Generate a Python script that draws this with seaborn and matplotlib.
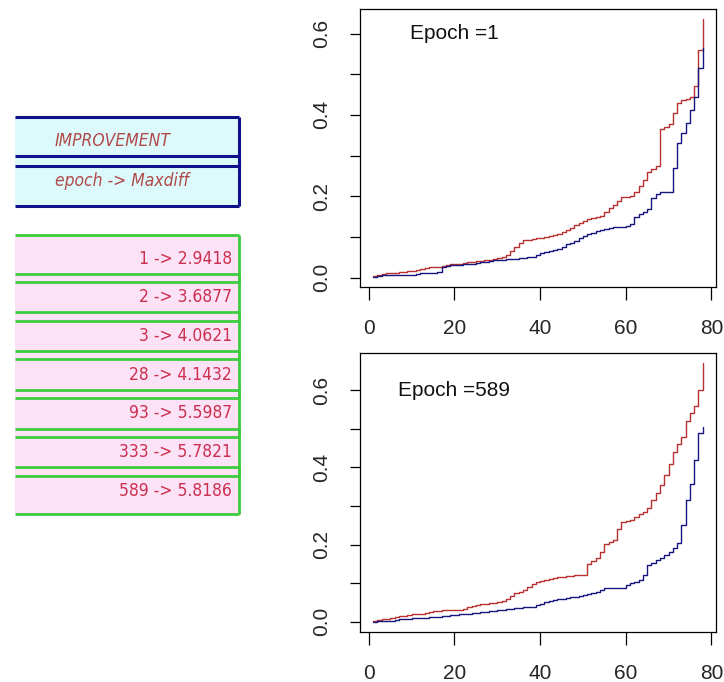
import pandas as pd
import matplotlib
matplotlib.use("Agg")
import matplotlib.pyplot as plt
import matplotlib.patches as mpatches
from matplotlib import font_manager
from matplotlib.font_manager import FontProperties
import numpy as np
import seaborn as sns

# data (sorted values, index 1..78)
idx = list(range(1, 79))

top_red = [0.003, 0.006, 0.008, 0.010, 0.012, 0.012, 0.014, 0.014, 0.016, 0.017,
           0.018, 0.020, 0.024, 0.025, 0.026, 0.027, 0.029, 0.030, 0.032, 0.034,
           0.034, 0.036, 0.037, 0.038, 0.040, 0.041, 0.042, 0.044, 0.046, 0.048,
           0.050, 0.055, 0.065, 0.075, 0.085, 0.093, 0.093, 0.095, 0.097, 0.098,
           0.100, 0.103, 0.104, 0.108, 0.112, 0.116, 0.122, 0.128, 0.134, 0.140,
           0.145, 0.146, 0.150, 0.152, 0.162, 0.170, 0.178, 0.188, 0.197, 0.199,
           0.200, 0.210, 0.224, 0.240, 0.260, 0.268, 0.274, 0.364, 0.370, 0.378,
           0.405, 0.430, 0.436, 0.438, 0.445, 0.470, 0.560, 0.635]
top_blue = [0.002, 0.004, 0.005, 0.005, 0.005, 0.006, 0.006, 0.007, 0.007, 0.007,
            0.009, 0.010, 0.011, 0.012, 0.012, 0.014, 0.025, 0.028, 0.030, 0.031,
            0.031, 0.032, 0.032, 0.034, 0.036, 0.038, 0.039, 0.040, 0.042, 0.043,
            0.044, 0.045, 0.046, 0.046, 0.047, 0.048, 0.050, 0.051, 0.056, 0.061,
            0.063, 0.065, 0.067, 0.071, 0.076, 0.082, 0.086, 0.090, 0.096, 0.102,
            0.106, 0.110, 0.115, 0.118, 0.120, 0.122, 0.123, 0.124, 0.125, 0.126,
            0.132, 0.150, 0.156, 0.162, 0.168, 0.195, 0.205, 0.211, 0.211, 0.211,
            0.270, 0.330, 0.355, 0.380, 0.412, 0.445, 0.515, 0.565]
bot_red = [0.003, 0.005, 0.006, 0.008, 0.010, 0.012, 0.014, 0.016, 0.018, 0.019,
           0.020, 0.021, 0.023, 0.025, 0.027, 0.028, 0.029, 0.030, 0.030, 0.031,
           0.031, 0.034, 0.038, 0.041, 0.043, 0.045, 0.047, 0.048, 0.049, 0.051,
           0.053, 0.058, 0.066, 0.074, 0.078, 0.082, 0.090, 0.098, 0.102, 0.106,
           0.108, 0.110, 0.112, 0.115, 0.117, 0.118, 0.119, 0.120, 0.120, 0.121,
           0.150, 0.158, 0.164, 0.180, 0.202, 0.206, 0.212, 0.240, 0.258, 0.262,
           0.264, 0.272, 0.280, 0.284, 0.295, 0.316, 0.335, 0.355, 0.380, 0.410,
           0.440, 0.460, 0.480, 0.520, 0.540, 0.560, 0.600, 0.670]
bot_blue = [0.000, 0.001, 0.001, 0.002, 0.002, 0.004, 0.006, 0.007, 0.008, 0.009,
            0.010, 0.010, 0.010, 0.011, 0.012, 0.013, 0.014, 0.015, 0.017, 0.018,
            0.019, 0.020, 0.021, 0.022, 0.023, 0.024, 0.026, 0.027, 0.028, 0.030,
            0.031, 0.032, 0.034, 0.035, 0.035, 0.037, 0.038, 0.039, 0.042, 0.046,
            0.050, 0.054, 0.056, 0.058, 0.060, 0.062, 0.064, 0.065, 0.067, 0.070,
            0.072, 0.074, 0.078, 0.083, 0.087, 0.087, 0.087, 0.087, 0.088, 0.095,
            0.100, 0.104, 0.109, 0.120, 0.148, 0.152, 0.160, 0.166, 0.172, 0.180,
            0.190, 0.204, 0.250, 0.316, 0.356, 0.420, 0.490, 0.506]

epochs = [1, 2, 3, 28, 93, 333, 589]
maxdiff = [2.9418, 3.6877, 4.0621, 4.1432, 5.5987, 5.7821, 5.8186]
panel_titles = ["Epoch =1", "Epoch =589"]

sns.set_style("ticks")
plt.rcParams['font.family'] = ['Liberation Sans', 'DejaVu Sans']

# look for a narrow/condensed face for the left table (R used Arial Narrow look)
def find_narrow(italic):
    for f in font_manager.fontManager.ttflist:
        nm = (f.name + ' ' + str(f.stretch)).lower()
        if ('narrow' in nm or 'condensed' in nm) and (f.style != 'normal') == italic \
                and f.weight in (400, 'normal', 'regular'):
            return f.fname
    return None

hfile, nfile = find_narrow(True), find_narrow(False)
if hfile and nfile:
    head_fp = FontProperties(fname=hfile, size=12.5)
    num_fp = FontProperties(fname=nfile, size=12.5)
else:
    head_fp = FontProperties(family=['Liberation Sans', 'DejaVu Sans'], style='italic', size=11.5)
    num_fp = FontProperties(family=['Liberation Sans', 'DejaVu Sans'], size=13)

fig = plt.figure(figsize=(7.24, 6.82), dpi=100)

# left panel: boxes drawn in pixel coords
lax = fig.add_axes([0, 0, 1, 1])
lax.set_xlim(0, 724)
lax.set_ylim(682, 0)
lax.axis('off')

def box(ax, top, bottom, fill, edge, lw):
    ax.add_patch(mpatches.Rectangle((15, top), 224, bottom - top, facecolor=fill,
                                    edgecolor='none', zorder=1))
    ax.plot([15, 239], [top, top], color=edge, lw=lw, zorder=2, solid_capstyle='butt')
    ax.plot([15, 239], [bottom, bottom], color=edge, lw=lw, zorder=2, solid_capstyle='butt')
    ax.plot([239, 239], [top, bottom], color=edge, lw=lw, zorder=2, solid_capstyle='butt')

# header boxes
hdr = [(117, 166, "IMPROVEMENT", 141), (156, 206, "epoch -> Maxdiff", 181)]
for top, bottom, txt, yc in hdr:
    box(lax, top, bottom, '#dcfafc', '#10108c', 2.2)
for top, bottom, txt, yc in hdr:
    lax.text(55, yc, txt, ha='left', va='center', fontproperties=head_fp,
             color='#b04848', zorder=3)

# epoch boxes
for i, (e, m) in enumerate(zip(epochs, maxdiff)):
    top = 235 + 38.7 * i
    box(lax, top, top + 47, '#fce2f6', '#3ccc3c', 2.0)
for i, (e, m) in enumerate(zip(epochs, maxdiff)):
    top = 235 + 38.7 * i
    lax.text(232, top + 23.5, f"{e} -> {m:.4f}", ha='right', va='center',
             fontproperties=num_fp, color='#cc3050', zorder=3)

# right panels
positions = [[0.4972, 0.5792, 0.4917, 0.4076], [0.4972, 0.0733, 0.4917, 0.4091]]
series = [(top_red, top_blue), (bot_red, bot_blue)]

for pos, (red, blue), title in zip(positions, series, panel_titles):
    ax = fig.add_axes(pos)
    df = pd.DataFrame({
        'x': idx * 2,
        'v': red + blue,
        's': ['red'] * len(red) + ['blue'] * len(blue),
    })
    sns.lineplot(data=df, x='x', y='v', hue='s', palette={'red': '#b83030', 'blue': '#16167e'},
                 estimator=None, drawstyle='steps-post', linewidth=1.0, legend=False, ax=ax)
    # R-style 4% padding
    lo, hi = min(red + blue), max(red + blue)
    ax.set_ylim(lo - 0.04 * (hi - lo), hi + 0.04 * (hi - lo))
    ax.set_xlim(1 - 0.04 * 77, 78 + 0.04 * 77)
    ax.set_xticks([0, 20, 40, 60, 80])
    ax.set_xticklabels(['0', '20', '40', '60', '80'])
    ax.set_yticks([0.0, 0.1, 0.2, 0.3, 0.4, 0.5, 0.6])
    ax.set_yticklabels(['0.0', '', '0.2', '', '0.4', '', '0.6'], rotation=90, va='center')
    ax.tick_params(axis='x', length=9, width=0.9, pad=14, labelsize=15, color='black')
    ax.tick_params(axis='y', length=7.5, width=0.9, pad=13, labelsize=15, color='black')
    for sp in ax.spines.values():
        sp.set_visible(True)
        sp.set_color('black')
        sp.set_linewidth(0.9)
    ax.set_xlabel('')
    ax.set_ylabel('')
    ax.text(20, 0.6, title, ha='center', va='center', fontsize=15, color='#111111')
    ax.set_facecolor('white')

fig.savefig('out.png', dpi=100)
